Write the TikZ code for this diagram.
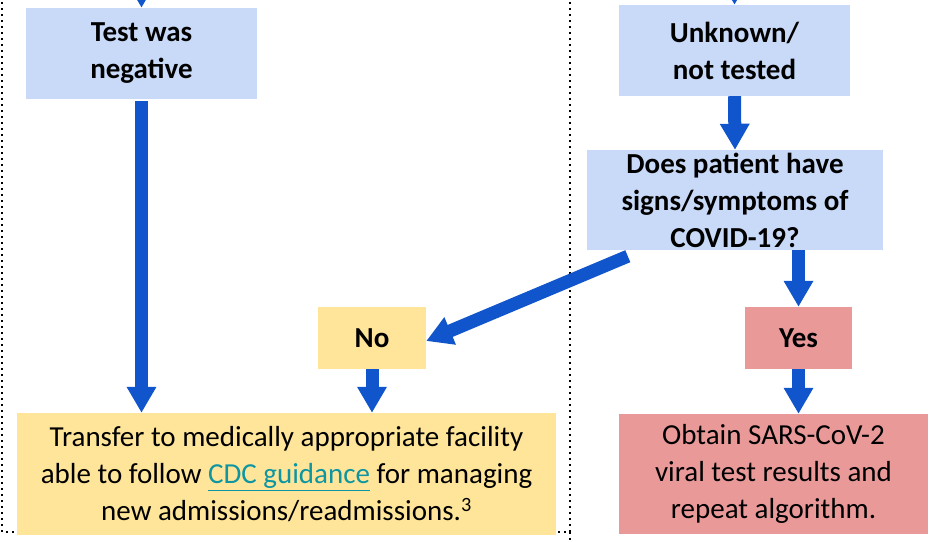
\documentclass[tikz,border=0pt]{standalone}
\usepackage{fontspec}
\setmainfont{Carlito}
\usetikzlibrary{arrows.meta}
\definecolor{qblue}{HTML}{C9DAF8}
\definecolor{noyellow}{HTML}{FFE599}
\definecolor{yesred}{HTML}{EA9999}
\definecolor{arrowblue}{HTML}{1155CC}
\definecolor{linkteal}{HTML}{0E95A2}
\begin{document}
\begin{tikzpicture}[
   x=1pt, y=-1pt,
   box/.style={inner sep=0pt, align=center, font=\fontsize{29}{37}\selectfont},
   qbox/.style={box, fill=qblue, font=\fontsize{29}{37}\selectfont\bfseries},
   nobox/.style={box, fill=noyellow},
   yesbox/.style={box, fill=yesred},
   flow/.style={draw=arrowblue, line width=13pt,
      -{Triangle[width=28pt,length=26pt]}},
   frame/.style={line width=2pt, dash pattern=on 2pt off 4pt}]

\useasboundingbox (0,0) rectangle (932,541);
\clip (0,0) rectangle (932,541);

\draw[frame] (2,-10) -- (2,532) -- (570,532) -- (570,-10);
\draw[frame] (570,532) -- (570,550);

\node[qbox, minimum width=231pt, minimum height=91pt] (neg) at (141.5,53.5)
   {Test was\\negative};
\node[qbox, minimum width=231pt, minimum height=91pt] (unk) at (734.5,50.5)
   {Unknown/\\not tested};
\node[qbox, minimum width=296pt, minimum height=100pt] (sym) at (735,200)
   {Does patient have\\signs/symptoms of\\COVID-19?};
\node[nobox, font=\fontsize{29}{37}\selectfont\bfseries,
   minimum width=108pt, minimum height=62pt] (no) at (372,338) {No};
\node[yesbox, font=\fontsize{29}{37}\selectfont\bfseries,
   minimum width=107pt, minimum height=62pt] (yes) at (798.5,338) {Yes};
\node[nobox, minimum width=539pt, minimum height=122pt] (transfer) at (286.5,474)
   {Transfer to medically appropriate facility\\
    able to follow {\color{linkteal}\underline{CDC guidance}} for managing\\
    new admissions/readmissions.\textsuperscript{3}};
\node[yesbox, minimum width=309pt, minimum height=120pt] (obtain) at (773.5,474)
   {Obtain SARS-CoV-2\\viral test results and\\repeat algorithm.};

\coordinate (negin) at (141.5,-30);
\coordinate (unkin) at (734.5,-30);

\draw[flow] (negin) -- (neg.north);
\draw[flow] (unkin) -- (unk.north);
\draw[flow] ([yshift=-2pt]neg.south) -- (neg.south |- transfer.north);
\draw[flow] (unk.south) -- (sym.north);
\draw[flow] ([xshift=41pt,yshift=-6pt]sym.south west) -- ([yshift=-3pt]no.east);
\draw[flow] (yes.north |- sym.south) -- (yes.north);
\draw[flow] (no.south) -- (no.south |- transfer.north);
\draw[flow] (yes.south) -- (yes.south |- obtain.north);

\end{tikzpicture}
\end{document}
